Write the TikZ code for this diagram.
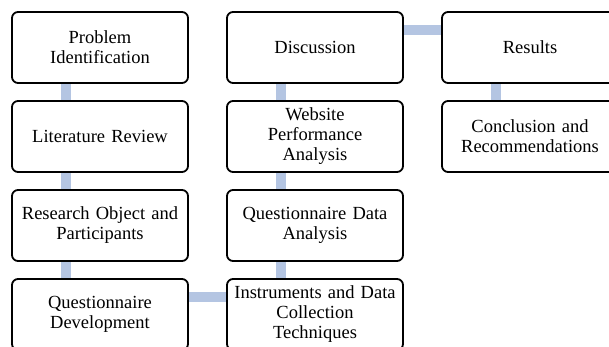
\documentclass[tikz,border=0pt]{standalone}
\usepackage{fontspec}
\setmainfont{Liberation Serif}
\usetikzlibrary{backgrounds}
\definecolor{linkblue}{RGB}{180,197,226}
\begin{document}
\begin{tikzpicture}[x=1pt,y=-1pt,
 box/.style={rectangle,draw,line width=1.8pt,rounded corners=6pt,fill=white,
             minimum width=176pt,minimum height=71pt,inner sep=2pt,align=center,
             text width=170pt,font=\fontsize{18.5}{20}\selectfont},
 link/.style={line width=10pt,draw=linkblue}]
\useasboundingbox (0,0) rectangle (609,347);
\node[box] (prob) at (100,47.5) {Problem\\Identification};
\node[box] (lit) at (100,136.5) {Literature Review};
\node[box] (obj) at (100,225.5) {Research Object and\\Participants};
\node[box] (qdev) at (100,314.5) {Questionnaire\\Development};
\node[box] (instr) at (315,314.5) {Instruments and Data\\Collection\\Techniques};
\node[box] (qana) at (315,225.5) {Questionnaire Data\\Analysis};
\node[box] (web) at (315,136.5) {Website\\Performance\\Analysis};
\node[box] (disc) at (315,47.5) {Discussion};
\node[box] (res) at (530,47.5) {Results};
\node[box] (concl) at (530,136.5) {Conclusion and\\Recommendations};
\begin{scope}[on background layer]
\draw[link] ([xshift=-34pt]prob.south)--([xshift=-34pt]lit.north);
\draw[link] ([xshift=-34pt]lit.south)--([xshift=-34pt]obj.north);
\draw[link] ([xshift=-34pt]obj.south)--([xshift=-34pt]qdev.north);
\draw[link] ([yshift=17.5pt]qdev.east)--([yshift=17.5pt]instr.west);
\draw[link] ([xshift=-34pt]instr.north)--([xshift=-34pt]qana.south);
\draw[link] ([xshift=-34pt]qana.north)--([xshift=-34pt]web.south);
\draw[link] ([xshift=-34pt]web.north)--([xshift=-34pt]disc.south);
\draw[link] ([yshift=17.5pt]disc.east)--([yshift=17.5pt]res.west);
\draw[link] ([xshift=-34pt]res.south)--([xshift=-34pt]concl.north);
\end{scope}
\end{tikzpicture}
\end{document}
